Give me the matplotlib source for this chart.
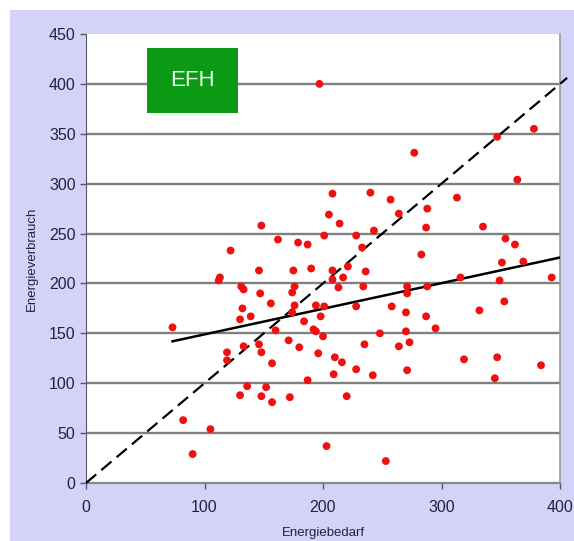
import matplotlib
matplotlib.use("Agg")
import matplotlib.pyplot as plt
from matplotlib.patches import Rectangle

plt.rcParams['font.family'] = ['Liberation Sans', 'DejaVu Sans']

# Data: Energiebedarf (x) vs Energieverbrauch (y)
bedarf = [197, 277, 347, 378, 364, 313, 208, 240, 257, 264, 288, 287, 335, 205, 214,
          148, 243, 201, 228, 162, 179, 187, 354, 362, 122, 233, 283, 369, 351, 221,
          208, 175, 236, 146, 190, 113, 112, 217, 316, 393, 349, 208, 131, 133, 213,
          234, 271, 288, 176, 174, 147, 271, 353, 156, 176, 194, 201, 228, 258, 132,
          332, 174, 270, 139, 130, 198, 287, 184, 160, 192, 194, 73, 295, 270, 248,
          200, 171, 273, 133, 146, 235, 180, 264, 119, 148, 196, 319, 347, 210, 119,
          216, 157, 384, 228, 271, 209, 242, 345, 187, 136, 152, 130, 148, 172, 220,
          157, 82, 105, 90, 203, 253]
verbrauch = [400, 331, 347, 355, 304, 286, 290, 291, 284, 270, 275, 256, 257, 269, 260,
             258, 253, 248, 248, 244, 241, 239, 245, 239, 233, 236, 229, 222, 221, 217,
             213, 213, 212, 213, 215, 206, 203, 206, 206, 206, 203, 204, 197, 194, 196,
             197, 197, 197, 197, 191, 190, 190, 182, 180, 178, 178, 177, 177, 177, 175,
             173, 171, 171, 167, 164, 167, 167, 162, 153, 154, 152, 156, 155, 152, 150,
             147, 143, 141, 137, 139, 139, 136, 137, 131, 131, 130, 124, 126, 126, 123,
             121, 120, 118, 114, 113, 109, 108, 105, 103, 97, 96, 88, 87, 86, 87,
             81, 63, 54, 29, 37, 22]

trend_x = [73, 400]
trend_y = [142, 226]
diag_x = [0, 406]
diag_y = [0, 406]

xticks = [0, 100, 200, 300, 400]
yticks = [0, 50, 100, 150, 200, 250, 300, 350, 400, 450]

fig = plt.figure(figsize=(5.74, 5.41), dpi=100)
fig.patch.set_facecolor('white')
fig.patches.append(Rectangle((10/574, 0), 1, (541-10)/541, transform=fig.transFigure,
                             facecolor='#d3d3fa', edgecolor='none', zorder=-10))

ax = fig.add_axes([86/574, (541-483)/541, (560-86)/574, (483-34)/541])
ax.set_facecolor('white')
ax.set_xlim(0, 400)
ax.set_ylim(0, 450)
ax.set_xticks(xticks)
ax.set_yticks(yticks)

for yv in yticks[1:-1]:
    ax.axhline(yv, color='#808080', lw=1.7, zorder=1)

ax.plot(diag_x, diag_y, color='black', lw=1.6, dashes=(6, 3), zorder=3, clip_on=False)
ax.plot(trend_x, trend_y, color='black', lw=1.8, zorder=3)
ax.scatter(bedarf, verbrauch, s=32, color='#ee1111', edgecolors='none', zorder=4)

ax.spines['top'].set_visible(False)
ax.spines['right'].set_color('#9a9a9a')
ax.spines['right'].set_linewidth(1.2)
ax.spines['left'].set_color('#555566')
ax.spines['bottom'].set_color('#888888')
ax.spines['bottom'].set_linewidth(1.6)
ax.tick_params(axis='both', colors='#555566', labelcolor='#22223f', labelsize=11.5,
               length=4, width=1)
ax.tick_params(axis='x', pad=8)

ax.set_xlabel('Energiebedarf', fontsize=9.5, color='#22223f', labelpad=9)
ax.set_ylabel('Energieverbrauch', fontsize=9.5, color='#22223f', labelpad=8)

ax.add_patch(Rectangle((51.5, 371), 76.5, 65, facecolor='#0a9a14', edgecolor='none', zorder=5))
ax.text(89.5, 403, 'EFH', color='#e8fce8', fontsize=16, ha='center', va='center', zorder=6)

fig.savefig('out.png', dpi=100, facecolor=fig.get_facecolor())
